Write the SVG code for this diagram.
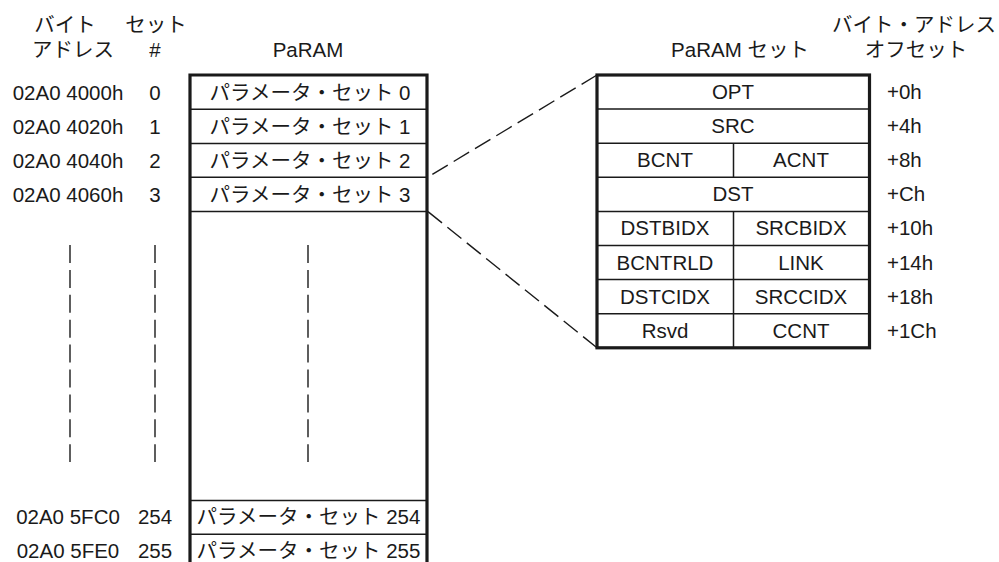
<svg xmlns="http://www.w3.org/2000/svg" width="999" height="562" viewBox="0 0 999 562">
  <style>
    text { font-family: "Liberation Sans", "Noto Sans CJK JP", sans-serif; font-size: 20.5px; fill: #1a1a1a; }
    .c { text-anchor: middle; }
    .l { text-anchor: start; }
    .frame { fill: none; stroke: #1a1a1a; stroke-width: 3.2; }
    .rule { stroke: #1a1a1a; stroke-width: 1.5; fill: none; }
    .dash { stroke: #1a1a1a; stroke-width: 1.4; fill: none; stroke-dasharray: 18 6.9; }
  </style>
  <rect width="999" height="562" fill="#ffffff"/>

  <!-- column headings -->
  <g id="headings">
    <text class="c" x="65" y="32">バイト</text>
    <text class="c" x="73" y="57">アドレス</text>
    <text class="c" x="156" y="32">セット</text>
    <text class="c" x="155" y="57">#</text>
    <text class="c" x="308" y="57">PaRAM</text>
    <text class="c" x="740" y="57">PaRAM セット</text>
    <text class="c" x="914" y="32">バイト・アドレス</text>
    <text class="c" x="916" y="57">オフセット</text>
  </g>

  <!-- address / set number labels -->
  <g id="labels">
    <text class="c" x="68" y="99.5">02A0 4000h</text>
    <text class="c" x="155" y="99.5">0</text>
    <text class="c" x="68" y="133.5">02A0 4020h</text>
    <text class="c" x="155" y="133.5">1</text>
    <text class="c" x="68" y="167.5">02A0 4040h</text>
    <text class="c" x="155" y="167.5">2</text>
    <text class="c" x="68" y="201.5">02A0 4060h</text>
    <text class="c" x="155" y="201.5">3</text>
    <text class="c" x="68" y="524">02A0 5FC0</text>
    <text class="c" x="155" y="524">254</text>
    <text class="c" x="68" y="558">02A0 5FE0</text>
    <text class="c" x="155" y="558">255</text>
  </g>

  <!-- PaRAM table -->
  <g id="param">
    <path class="rule" d="M190 109.3H427M190 143.5H427M190 177.3H427M190 211.6H427M190 500.5H427M190 534.3H427"/>
    <path class="frame" d="M190 570V75H427V570"/>
    <text class="c" x="310" y="99.5">パラメータ・セット 0</text>
    <text class="c" x="310" y="133.5">パラメータ・セット 1</text>
    <text class="c" x="310" y="167.5">パラメータ・セット 2</text>
    <text class="c" x="310" y="201.5">パラメータ・セット 3</text>
    <text class="c" x="308.5" y="524">パラメータ・セット 254</text>
    <text class="c" x="308.5" y="558">パラメータ・セット 255</text>
  </g>

  <!-- PaRAM set detail -->
  <g id="param-set">
    <path class="rule" d="M597 109.1H869.5M597 143.2H869.5M597 177.3H869.5M597 211.4H869.5M597 245.5H869.5M597 279.6H869.5M597 313.7H869.5"/>
    <path class="rule" d="M733.5 143.2V177.3M733.5 211.4V347.8"/>
    <rect class="frame" x="597" y="75" width="272.5" height="272.8"/>
    <text class="c" x="733" y="99">OPT</text>
    <text class="c" x="733" y="133">SRC</text>
    <text class="c" x="665" y="167.2">BCNT</text>
    <text class="c" x="801" y="167.2">ACNT</text>
    <text class="c" x="733" y="201.3">DST</text>
    <text class="c" x="665" y="235.4">DSTBIDX</text>
    <text class="c" x="801" y="235.4">SRCBIDX</text>
    <text class="c" x="665" y="269.5">BCNTRLD</text>
    <text class="c" x="801" y="269.5">LINK</text>
    <text class="c" x="665" y="303.6">DSTCIDX</text>
    <text class="c" x="801" y="303.6">SRCCIDX</text>
    <text class="c" x="665" y="337.7">Rsvd</text>
    <text class="c" x="801" y="337.7">CCNT</text>
  </g>

  <!-- byte offsets -->
  <g id="offsets">
    <text class="l" x="887" y="99">+0h</text>
    <text class="l" x="887" y="133">+4h</text>
    <text class="l" x="887" y="167.2">+8h</text>
    <text class="l" x="887" y="201.3">+Ch</text>
    <text class="l" x="887" y="235.4">+10h</text>
    <text class="l" x="887" y="269.5">+14h</text>
    <text class="l" x="887" y="303.6">+18h</text>
    <text class="l" x="887" y="337.7">+1Ch</text>
  </g>

  <!-- connectors: continuation marks and zoom-out lines -->
  <g id="connectors">
    <path class="dash" d="M70 245V462M155 245V462M308 245V462"/>
    <path class="dash" d="M597 75L428 177"/>
    <path class="dash" d="M428 211.6L597 347.8"/>
  </g>
</svg>
